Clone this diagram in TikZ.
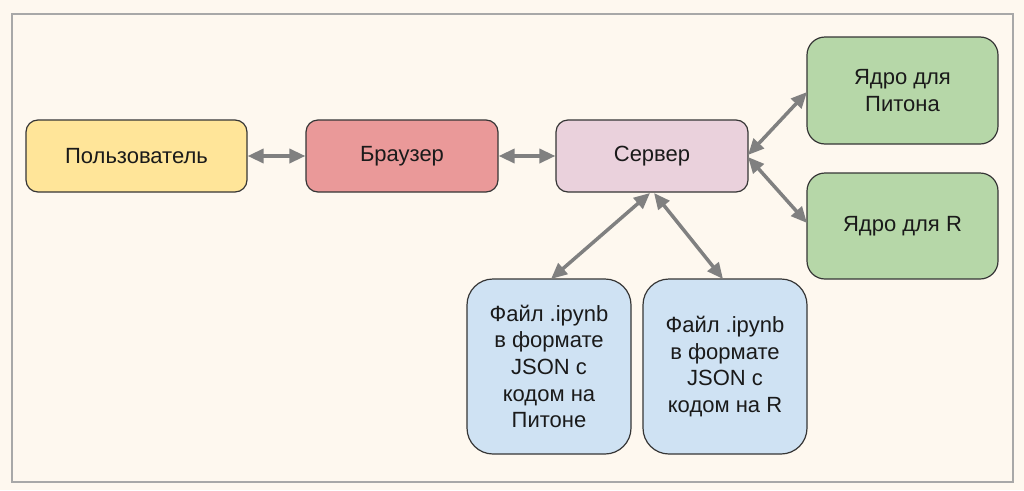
\documentclass[tikz,border=0pt]{standalone}
\usepackage{fontspec}
\setmainfont{Liberation Sans}
\usetikzlibrary{arrows.meta}
\definecolor{bg}{HTML}{FEF8EF}
\definecolor{frame}{HTML}{A8A8A8}
\definecolor{usr}{HTML}{FFE599}
\definecolor{brw}{HTML}{EA9999}
\definecolor{srv}{HTML}{EAD1DC}
\definecolor{krn}{HTML}{B6D7A8}
\definecolor{fil}{HTML}{CFE2F3}
\definecolor{edge}{HTML}{363636}
\definecolor{conn}{HTML}{808080}
\definecolor{txt}{HTML}{1A1A1A}
\tikzset{
  box/.style={draw=edge, line width=1.2pt, rounded corners=#1, inner sep=0pt,
    text=txt, font=\fontsize{22}{26.7}\selectfont, align=center},
  box/.default=12pt,
  link/.style={draw=conn, line width=3.5pt,
    {Triangle[length=16pt,width=14pt]}-{Triangle[length=16pt,width=14pt]}},
}
\begin{document}
\begin{tikzpicture}[x=1pt,y=-1pt]
\useasboundingbox (0,0) rectangle (1024,490);
\fill[bg] (0,0) rectangle (1024,490);
\draw[frame, line width=1.2pt] (12,14) rectangle (1013,482);

\node[box, fill=usr, minimum width=221pt, minimum height=72pt] (user) at (136.5,156) {Пользователь};
\node[box, fill=brw, minimum width=192pt, minimum height=72pt] (browser) at (402,156) {Браузер};
\node[box, fill=srv, minimum width=192pt, minimum height=72pt] (server) at (652,156) {Сервер};
\node[box=18pt, fill=krn, minimum width=191pt, minimum height=107pt] (kpy) at (902.5,90.5) {Ядро для\\Питона};
\node[box=18pt, fill=krn, minimum width=191pt, minimum height=106pt] (kr) at (902.5,226) {Ядро для R};
\node[box=26pt, fill=fil, minimum width=164pt, minimum height=175pt] (f1) at (549,366.5) {Файл .ipynb\\в формате\\JSON с\\кодом на\\Питоне};
\node[box=26pt, fill=fil, minimum width=164pt, minimum height=175pt] (f2) at (725,366.5) {Файл .ipynb\\в формате\\JSON с\\кодом на R};

\coordinate (sR1) at (748,155);
\coordinate (sR2) at (748,157);
\coordinate (sB1) at (650,193);
\coordinate (sB2) at (654,193);
\coordinate (kpyE) at (807,92);
\coordinate (krE) at (807,223);
\coordinate (f1E) at (551,279);
\coordinate (f2E) at (723,279);

\draw[link] (user.east) -- (browser.west);
\draw[link] (browser.east) -- (server.west);
\draw[link] (sR1) -- (kpyE);
\draw[link] (sR2) -- (krE);
\draw[link] (sB1) -- (f1E);
\draw[link] (sB2) -- (f2E);
\end{tikzpicture}
\end{document}
